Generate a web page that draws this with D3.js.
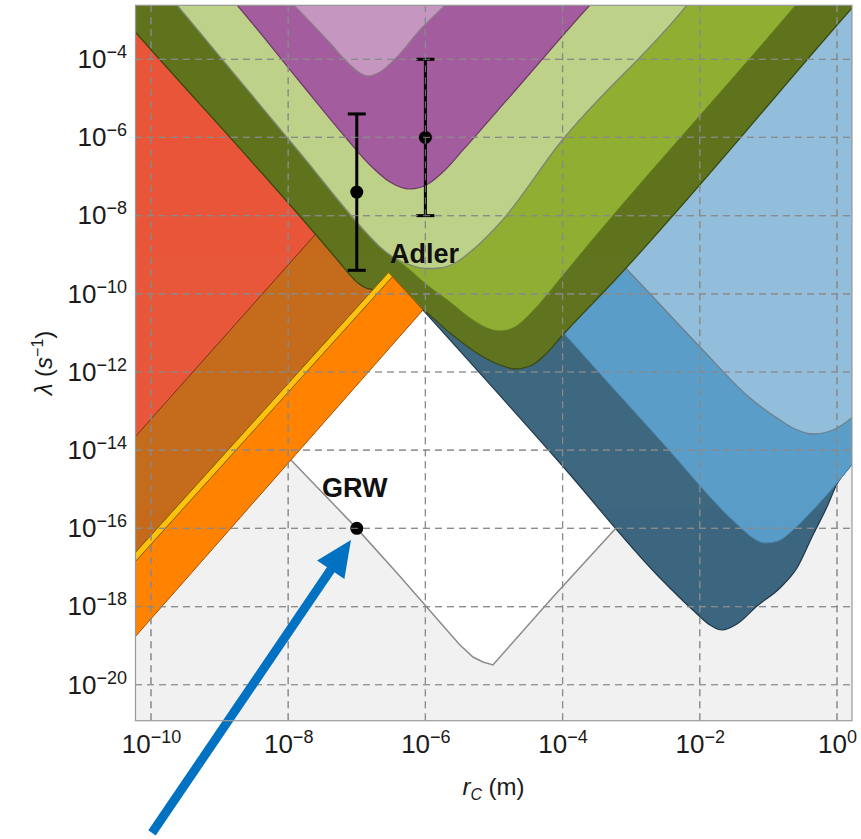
<!DOCTYPE html>
<html><head><meta charset="utf-8">
<script src="https://cdn.jsdelivr.net/npm/d3@7"></script>
<style>
body{margin:0;background:#fff;}
svg{display:block;font-family:"Liberation Sans",Arial,Helvetica,sans-serif;}
</style>
</head><body>
<svg id="chart" width="861" height="839"></svg>
<script>
// ---------- DATA (log10 rC [m], log10 lambda [1/s]) ----------
const xDomainExp = [-10.233, 0.219];
const yDomainExp = [-20.92, -2.619];
const xTickExponents = [-10, -8, -6, -4, -2, 0];
const yTickExponents = [-4, -6, -8, -10, -12, -14, -16, -18, -20];

// lower bound of the theoretically allowed (white) region, GRW line
const grwBound = [[-8.047,-14.072],[-7.959,-14.251],[-7,-16],[-6.414,-17.141],[-6.006,-17.960],[-5.714,-18.548],[-5.496,-18.983],[-5.306,-19.291],[-5.160,-19.418],[-5.015,-19.495],[-4.140,-17.755],[-3.207,-15.965],[-2.580,-14.762]];
// blue exclusion regions
const darkBlueBound = [[-6.035,-10.414],[-4.038,-14.328],[-2.580,-17.269],[-2.070,-18.139],[-1.851,-18.472],[-1.676,-18.600],[-1.458,-18.446],[-1.166,-17.986],[-0.831,-17.525],[-0.583,-17.014],[-0.350,-16.169],[-0.146,-15.453],[0.0,-14.865],[0.233,-14.328],[0.4,-13.9]];
const medBlueBound = [[-4.038,-10.900],[-2.580,-13.739],[-1.414,-15.965],[-1.224,-16.246],[-1.050,-16.374],[-0.860,-16.323],[-0.641,-16.042],[-0.350,-15.530],[0.0,-14.840],[0.233,-14.328],[0.4,-13.9]];
const lightBlueBound = [[-3.455,-8.648],[-2.915,-9.646],[-1.997,-11.360],[-1.268,-12.665],[-0.875,-13.176],[-0.641,-13.432],[-0.350,-13.586],[-0.058,-13.483],[0.233,-13.151],[0.4,-12.9]];
// left (X-ray type) regions
const redBound = [[-10.4,-13.991],[-7.2,-7.683]];
const brownBound = [[-10.4,-16.954],[-6.537,-9.453]];
const yellowBand = [[-10.4,-16.954],[-6.537,-9.453],[-6.480,-9.562],[-10.4,-17.185]];
const orangeWedge = [[-10.4,-19.112],[-6.035,-10.414],[-6.480,-9.562],[-10.4,-17.185]];
// green / purple regions
const oliveBound = [[-10.4,-2.963],[-10.233,-3.294],[-7.245,-9.211],[-7.099,-9.518],[-6.983,-9.723],[-6.866,-9.851],[-6.764,-9.89],[-6.589,-9.953],[-6.370,-10.132],[-6.035,-10.414],[-5.641,-11.003],[-5.204,-11.565],[-4.913,-11.821],[-4.694,-11.923],[-4.475,-11.846],[-4.257,-11.565],[-4.038,-11.130],[-3.236,-9.646],[0.233,-2.662],[0.4,-2.33]];
const medGreenBound = [[-9.75,-2.35],[-9.621,-2.611],[-7.828,-6.397],[-6.764,-8.623],[-6.516,-9.007],[-6.297,-9.288],[-5.977,-9.774],[-5.641,-10.209],[-5.350,-10.619],[-5.102,-10.874],[-4.913,-10.951],[-4.694,-10.849],[-4.475,-10.516],[-4.227,-10.030],[-4.038,-9.621],[-0.612,-2.636],[-0.45,-2.3]];
const lightGreenBound = [[-9.75,-2.34],[-9.621,-2.611],[-7.828,-6.397],[-6.764,-8.623],[-6.662,-8.802],[-6.472,-9.058],[-6.224,-9.262],[-6.006,-9.352],[-5.787,-9.339],[-5.569,-9.211],[-5.277,-8.827],[-4.913,-8.188],[-4.038,-6.141],[-2.187,-2.611],[-2.07,-2.35]];
const purpleBound = [[-8.85,-2.4],[-8.746,-2.611],[-7.828,-4.581],[-7.143,-6.039],[-6.808,-6.704],[-6.516,-7.139],[-6.224,-7.318],[-5.962,-7.190],[-5.714,-6.832],[-5.452,-6.320],[-4.723,-4.862],[-3.601,-2.611],[-3.49,-2.4]];
const lightPurpleBound = [[-8.09,-2.3],[-7.638,-3.123],[-7.391,-3.583],[-7.143,-4.069],[-6.953,-4.350],[-6.837,-4.427],[-6.662,-4.325],[-6.414,-3.941],[-6.079,-3.250],[-5.714,-2.611],[-5.55,-2.3]];

// points (rC, lambda)
const adlerPoints = [
  {r: 1e-7, lambda: 4e-8, lo: 4e-10, hi: 4e-6},
  {r: 1e-6, lambda: 1e-6, lo: 1e-8, hi: 1e-4}
];
const grwPoint = {r: 1e-7, lambda: 1e-16};
const labels = [
  {text: "Adler", r: 10**-6.516, lambda: 10**-9.211},
  {text: "GRW", r: 10**-7.507, lambda: 10**-15.2}
];
const arrowAnn = {from: [-9.985, -23.79], to: [-7.085, -16.297]};

// ---------- CHART ----------
const svg = d3.select("#chart");
const x = d3.scaleLog().domain(xDomainExp.map(e => 10**e)).range([135, 852]);
const y = d3.scaleLog().domain(yDomainExp.map(e => 10**e)).range([720.7, 5.3]);
const [x0, x1] = x.range(), [y0, y1] = [y.range()[1], y.range()[0]];

const px = d => x(10**d[0]), py = d => y(10**d[1]);
const lineGen = c => d3.line().x(px).y(py).curve(c);
const TOP = y(10**-1);
function region(pts, c) {
  const f = pts[0], l = pts[pts.length-1];
  return lineGen(c)(pts) + `L${px(l)},${TOP}L${px(f)},${TOP}Z`;
}
const poly = pts => lineGen(d3.curveLinear)(pts) + "Z";

svg.append("defs").append("clipPath").attr("id","clip")
  .append("rect").attr("x", x0).attr("y", y0).attr("width", x1-x0).attr("height", y1-y0);

const g = svg.append("g").attr("clip-path","url(#clip)");
g.append("rect").attr("x", x0).attr("y", y0).attr("width", x1-x0).attr("height", y1-y0).attr("fill","#f1f1f1");

const M = d3.curveMonotoneX, L = d3.curveLinear;
function layer(pts, curve, fill, stroke, sw) {
  g.append("path").attr("d", region(pts, curve)).attr("fill", fill);
  if (stroke) g.append("path").attr("d", lineGen(curve)(pts)).attr("fill","none").attr("stroke", stroke).attr("stroke-width", sw);
}
layer(grwBound, L, "#ffffff", "#8c8c8c", 1.5);
layer(darkBlueBound, M, "#3e6780", "#22394a", 1.2);
layer(medBlueBound, M, "#5a9dc8", "#4a85ab", 1);
layer(lightBlueBound, M, "#93bedb", "#6f7f8a", 1.3);
layer(brownBound, L, "#c56b1c", "#7a3e10", 1);
layer(redBound, L, "#e9573a", "#7e301c", 1);
layer(oliveBound, M, "#60741f", "#3a4a10", 1.3);
layer(medGreenBound, M, "#90ae34", "#66801f", 1);
layer(lightGreenBound, M, "#bed189", "#7f8673", 1.3);
layer(purpleBound, M, "#a45f9e", "#6f3a6a", 1.2);
layer(lightPurpleBound, M, "#c597c0", "#8a7c88", 1.2);
g.append("path").attr("d", poly(orangeWedge)).attr("fill","#ff8200").attr("stroke","#a65200").attr("stroke-width",1);
g.append("path").attr("d", poly(yellowBand)).attr("fill","#ffc20e").attr("stroke","#8a6400").attr("stroke-width",1);

// grid
const grid = g.append("g").attr("stroke","#8a8a8a").attr("stroke-width",1.2).attr("stroke-dasharray","7,5").attr("opacity",0.9);
xTickExponents.forEach(e => grid.append("line").attr("x1", x(10**e)).attr("x2", x(10**e)).attr("y1", y0).attr("y2", y1));
yTickExponents.forEach(e => grid.append("line").attr("y1", y(10**e)).attr("y2", y(10**e)).attr("x1", x0).attr("x2", x1));

// error bars + points
const pts = svg.append("g");
adlerPoints.forEach(p => {
  const cx = x(p.r);
  pts.append("line").attr("x1", cx).attr("x2", cx).attr("y1", y(p.hi)).attr("y2", y(p.lo)).attr("stroke","#000").attr("stroke-width",3);
  [p.hi, p.lo].forEach(v => pts.append("line").attr("x1", cx-9).attr("x2", cx+9).attr("y1", y(v)).attr("y2", y(v)).attr("stroke","#000").attr("stroke-width",3));
});
// re-draw grid dashes on bar 2 (grid lies over the bars)
adlerPoints.forEach(p => pts.append("circle").attr("cx", x(p.r)).attr("cy", y(p.lambda)).attr("r", 6.5).attr("fill","#000"));
pts.append("circle").attr("cx", x(grwPoint.r)).attr("cy", y(grwPoint.lambda)).attr("r", 6.5).attr("fill","#000");
const grid2 = svg.append("g").attr("clip-path","url(#clip)").attr("stroke","#8a8a8a").attr("stroke-width",1.2).attr("stroke-dasharray","7,5").attr("opacity",0.75);
xTickExponents.forEach(e => grid2.append("line").attr("x1", x(10**e)).attr("x2", x(10**e)).attr("y1", y0).attr("y2", y1));
yTickExponents.forEach(e => grid2.append("line").attr("y1", y(10**e)).attr("y2", y(10**e)).attr("x1", x0).attr("x2", x1));

labels.forEach(l => svg.append("text").attr("x", x(l.r)).attr("y", y(l.lambda)).attr("font-size", 27).attr("font-weight","bold").attr("fill","#111").text(l.text));

// arrow
{
  const ax0 = px(arrowAnn.from), ay0 = py(arrowAnn.from), ax1 = px(arrowAnn.to), ay1 = py(arrowAnn.to);
  const dx = ax1-ax0, dy = ay1-ay0, len = Math.hypot(dx, dy), ux = dx/len, uy = dy/len;
  const headL = 36, headW = 16.5;
  const bx = ax1 - ux*headL, by = ay1 - uy*headL;
  svg.append("line").attr("x1", ax0).attr("y1", ay0).attr("x2", bx + ux*2).attr("y2", by + uy*2).attr("stroke","#0072c1").attr("stroke-width",9);
  svg.append("path").attr("d", `M${ax1},${ay1}L${bx - uy*headW},${by + ux*headW}L${bx + uy*headW},${by - ux*headW}Z`).attr("fill","#0072c1");
}

// frame
svg.append("rect").attr("x", x0+0.5).attr("y", y0).attr("width", x1-x0-0.5).attr("height", y1-y0).attr("fill","none").attr("stroke","#999").attr("stroke-width",1.2);

// axes
const supText = e => e < 0 ? "\u2212" + (-e) : String(e);
const gy = svg.append("g").attr("transform", `translate(${x0},0)`)
  .call(d3.axisLeft(y).tickValues(yTickExponents.map(e => 10**e)).tickSize(0).tickPadding(8).tickFormat(() => ""));
gy.select(".domain").remove();
gy.attr("font-size", 26).attr("font-family", null);
gy.selectAll(".tick text").attr("fill","#1a1a1a").each(function(d){
  const e = Math.round(Math.log10(d)); const t = d3.select(this);
  t.append("tspan").text("10");
  t.append("tspan").attr("dy", -10).attr("font-size", 18).text(supText(e));
});
const gx = svg.append("g").attr("transform", `translate(0,${y1})`)
  .call(d3.axisBottom(x).tickValues(xTickExponents.map(e => 10**e)).tickSize(0).tickPadding(14).tickFormat(() => ""));
gx.select(".domain").remove();
gx.attr("font-size", 26).attr("font-family", null);
gx.selectAll(".tick text").attr("fill","#1a1a1a").each(function(d){
  const e = Math.round(Math.log10(d)); const t = d3.select(this);
  t.append("tspan").text("10");
  t.append("tspan").attr("dy", -10).attr("font-size", 18).text(supText(e));
});

// axis titles
const xt = svg.append("text").attr("x", (x0+x1)/2).attr("y", 795).attr("text-anchor","middle").attr("font-size", 24).attr("fill","#1a1a1a");
xt.append("tspan").attr("font-style","italic").text("r");
xt.append("tspan").attr("font-style","italic").attr("font-size",16).attr("dy",5).text("C");
xt.append("tspan").attr("dy",-5).text(" (m)");
const yt = svg.append("text").attr("transform", `translate(52,${(y0+y1)/2}) rotate(-90)`).attr("text-anchor","middle").attr("font-size", 24).attr("fill","#1a1a1a");
yt.append("tspan").attr("font-style","italic").text("\u03bb");
yt.append("tspan").text(" (");
yt.append("tspan").attr("font-style","italic").text("s");
yt.append("tspan").attr("font-size",16).attr("dy",-9).text("\u22121");
yt.append("tspan").attr("dy",9).text(")");
</script>
</body></html>
